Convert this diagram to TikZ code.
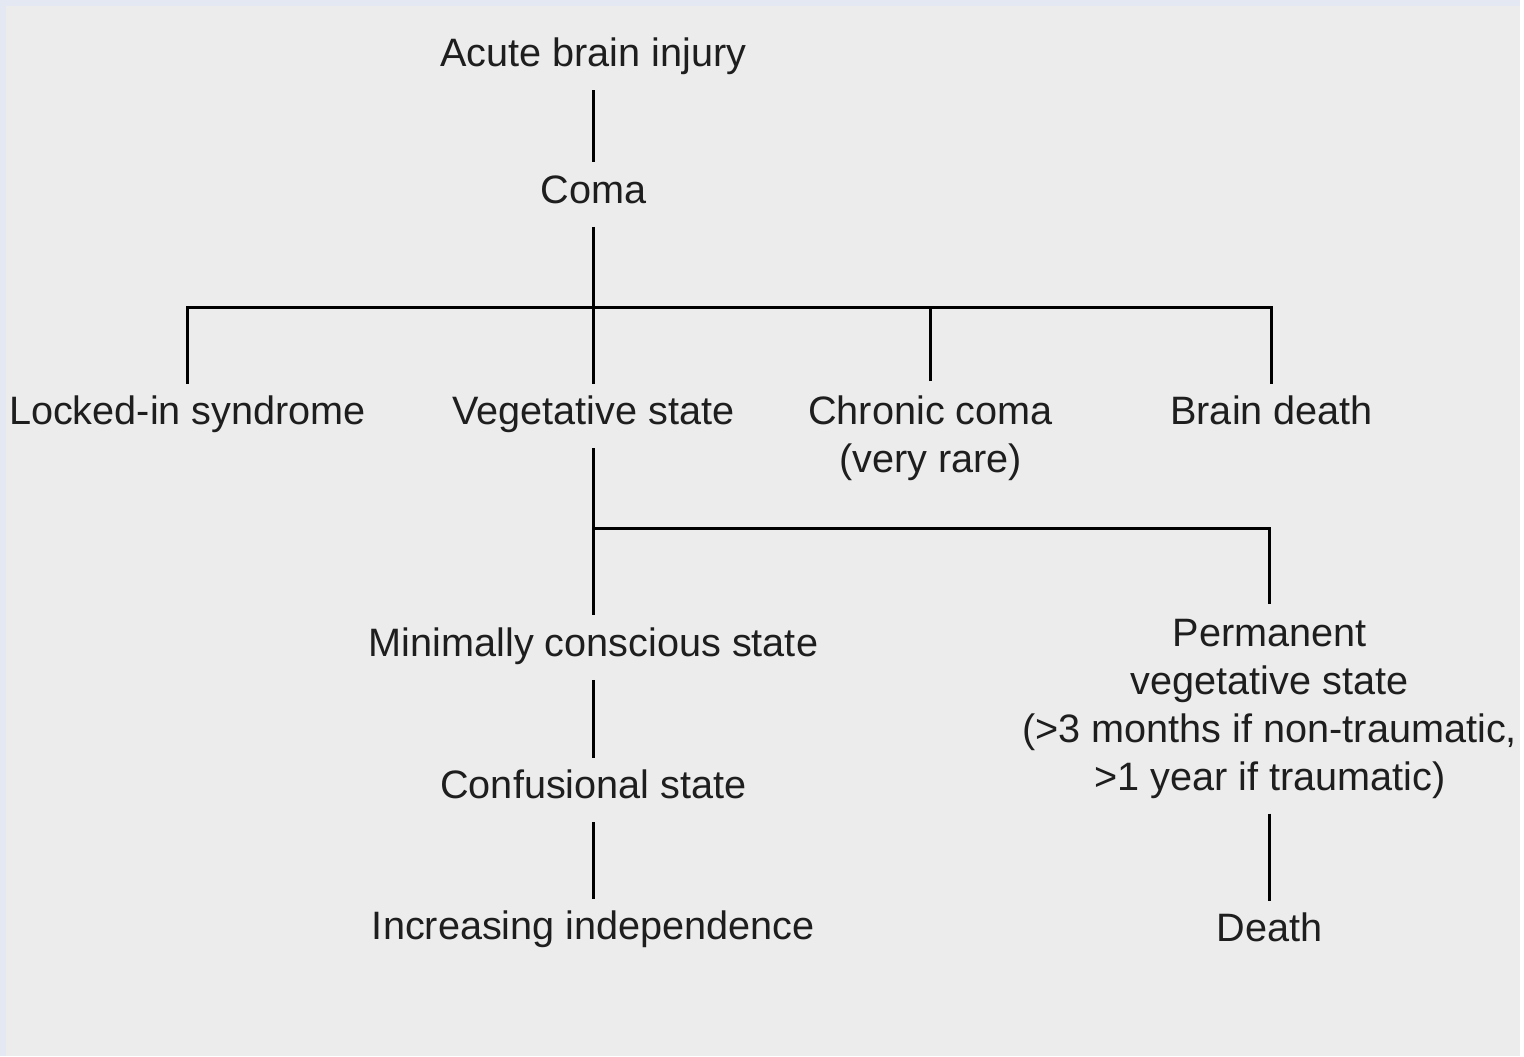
\documentclass[tikz,border=0pt]{standalone}
\usepackage{fontspec}
\setmainfont{Liberation Sans}
\usepackage{tikz}

\definecolor{scanframe}{RGB}{228,232,242}
\definecolor{scanpage}{RGB}{236,236,236}
\definecolor{ink}{RGB}{30,30,30}

\tikzset{
  state/.style={text=ink, font=\fontsize{11.3}{13.7}\selectfont, inner xsep=2pt, inner ysep=4pt,
    text height=0.75em, text depth=0.25em, anchor=base},
  multistate/.style={text=ink, font=\fontsize{11.3}{13.7}\selectfont, inner xsep=2pt, inner ysep=4pt,
    align=center, anchor=north},
  tree/.style={draw=black, line width=0.75pt}
}

\begin{document}
\begin{tikzpicture}[x=0.01cm, y=-0.01cm]
  % scanned page
  \fill[scanframe] (0,0) rectangle (1524,1059);
  \fill[scanpage] (6,6) rectangle (1524,1059);

  % top of the tree
  \node[state] (acute) at (595,67) {Acute brain injury};
  \node[state] (coma) at (595,204) {Coma};
  \coordinate (j1) at (595,308);

  % first outcomes
  \node[state] (locked) at (188,426) {Locked-in syndrome};
  \node[state] (vs) at (595,426) {Vegetative state};
  \node[multistate] (chronic) at (933,382) {Chronic coma\\(very rare)};
  \node[state] (bdeath) at (1275,426) {Brain death};
  \coordinate (j2) at (595,530);

  % from the vegetative state
  \node[state] (mcs) at (595,658) {Minimally conscious state};
  \node[multistate] (pvs) at (1273,606) {Permanent\\vegetative state\\(>3 months if non-traumatic,\\>1 year if traumatic)};
  \node[state] (conf) at (595,801) {Confusional state};
  \node[state] (indep) at (595,942) {Increasing independence};
  \node[state] (death) at (1273,944) {Death};

  % connectors
  \draw[tree] (acute) -- (coma);
  \draw[tree] (coma) -- (vs);
  \draw[tree] (locked.north) |- (j1) -| (bdeath.north);
  \draw[tree] (chronic.north) -- (chronic.north |- j1);
  \draw[tree] (vs) -- (mcs);
  \draw[tree] (j2) -| (pvs.north);
  \draw[tree] (mcs) -- (conf);
  \draw[tree] (conf) -- (indep);
  \draw[tree] (pvs) -- (death);
\end{tikzpicture}
\end{document}
